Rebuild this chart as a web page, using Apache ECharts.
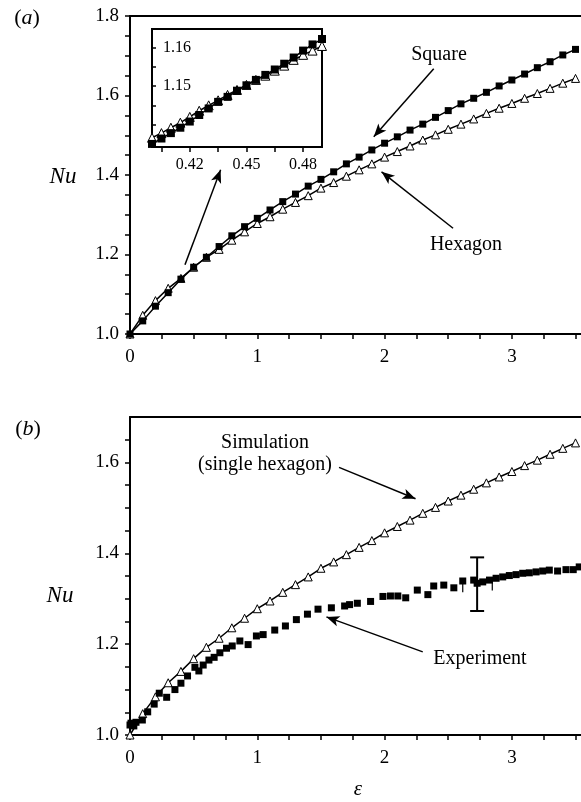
<!DOCTYPE html>
<html>
<head>
<meta charset="utf-8">
<script src="https://cdn.jsdelivr.net/npm/echarts@6/dist/echarts.min.js"></script>
<style>
  html, body { margin: 0; padding: 0; background: #fff; }
  #chart { width: 581px; height: 802px; }
</style>
</head>
<body>
<div id="chart"></div>
<script>
// ---- Data: Nusselt number vs. reduced control parameter epsilon ----
const eps = [0.0, 0.1, 0.2, 0.3, 0.4, 0.5, 0.6, 0.7, 0.8, 0.9, 1.0, 1.1, 1.2, 1.3, 1.4, 1.5, 1.6, 1.7,
             1.8, 1.9, 2.0, 2.1, 2.2, 2.3, 2.4, 2.5, 2.6, 2.7, 2.8, 2.9, 3.0, 3.1, 3.2, 3.3, 3.4, 3.5];
const nuSquare = [1.000, 1.033, 1.070, 1.104, 1.138, 1.168, 1.193, 1.220, 1.247, 1.270, 1.291, 1.312,
                  1.333, 1.352, 1.372, 1.389, 1.408, 1.428, 1.445, 1.463, 1.480, 1.496, 1.513, 1.528,
                  1.545, 1.562, 1.579, 1.593, 1.608, 1.624, 1.639, 1.654, 1.670, 1.685, 1.702, 1.716];
const nuHexagon = [1.000, 1.047, 1.084, 1.115, 1.140, 1.168, 1.193, 1.213, 1.236, 1.257, 1.278, 1.295,
                   1.314, 1.331, 1.348, 1.367, 1.381, 1.397, 1.413, 1.428, 1.445, 1.459, 1.473, 1.488,
                   1.501, 1.515, 1.528, 1.541, 1.555, 1.568, 1.580, 1.593, 1.605, 1.618, 1.631, 1.643];

// Close-up near eps = 0.45 where the two planforms cross
const insetEps = [0.400, 0.405, 0.410, 0.415, 0.420, 0.425, 0.430, 0.435, 0.440, 0.445,
                  0.450, 0.455, 0.460, 0.465, 0.470, 0.475, 0.480, 0.485, 0.490];
const insetSquare = [1.1350, 1.1364, 1.1378, 1.1392, 1.1408, 1.1425, 1.1442, 1.1459, 1.1472, 1.1488,
                     1.1502, 1.1516, 1.1529, 1.1543, 1.1558, 1.1574, 1.1592, 1.1608, 1.1622];
const insetHexagon = [1.1366, 1.1378, 1.1392, 1.1405, 1.1420, 1.1436, 1.1450, 1.1463, 1.1477, 1.1490,
                      1.1503, 1.1516, 1.1527, 1.1540, 1.1553, 1.1568, 1.1581, 1.1592, 1.1604];

// Measured Nusselt numbers
const expEps = [0.000, 0.030, 0.008, 0.047, 0.097, 0.139, 0.190, 0.230, 0.288, 0.353, 0.400, 0.452,
                0.510, 0.541, 0.575, 0.620, 0.661, 0.706, 0.758, 0.803, 0.863, 0.928, 0.993, 1.046,
                1.137, 1.221, 1.307, 1.394, 1.477, 1.582, 1.686, 1.725, 1.786, 1.890, 1.987, 2.046,
                2.104, 2.166, 2.257, 2.340, 2.386, 2.465, 2.544, 2.614, 2.700, 2.727, 2.771, 2.824,
                2.876, 2.928, 2.980, 3.033, 3.085, 3.137, 3.190, 3.242, 3.294, 3.359, 3.425, 3.482, 3.529];
const expNu = [1.022, 1.020, 1.026, 1.028, 1.033, 1.051, 1.068, 1.092, 1.083, 1.100, 1.114, 1.130,
               1.149, 1.141, 1.154, 1.165, 1.171, 1.181, 1.191, 1.196, 1.207, 1.199, 1.218, 1.221,
               1.231, 1.240, 1.254, 1.266, 1.277, 1.280, 1.284, 1.287, 1.290, 1.294, 1.305, 1.306,
               1.306, 1.302, 1.319, 1.309, 1.328, 1.330, 1.324, 1.339, 1.341, 1.334, 1.337, 1.341,
               1.345, 1.348, 1.351, 1.353, 1.356, 1.357, 1.359, 1.361, 1.363, 1.361, 1.364, 1.364, 1.370];

// Uncertainty bars on the measurements
const errEps = [2.727];
const errLow = [1.273];
const errHigh = [1.391];
const smallErrEps = [2.614, 2.846];
const smallErrLow = [1.314, 1.318];
const smallErrHigh = [1.337, 1.340];

// Tick values
const xLabels = [0, 1, 2, 3];
const xTicks = [0, 0.25, 0.5, 0.75, 1, 1.25, 1.5, 1.75, 2, 2.25, 2.5, 2.75, 3, 3.25, 3.5];
const yLabelsA = [1.0, 1.2, 1.4, 1.6, 1.8];
const yTicksA = [1.0, 1.05, 1.1, 1.15, 1.2, 1.25, 1.3, 1.35, 1.4, 1.45, 1.5, 1.55, 1.6, 1.65, 1.7, 1.75, 1.8];
const yLabelsB = [1.0, 1.2, 1.4, 1.6];
const yTicksB = [1.0, 1.05, 1.1, 1.15, 1.2, 1.25, 1.3, 1.35, 1.4, 1.45, 1.5, 1.55, 1.6, 1.65];
const insetXLabels = [0.42, 0.45, 0.48];
const insetXTicks = [0.405, 0.42, 0.435, 0.45, 0.465, 0.48];
const insetYLabels = [1.15, 1.16];
const insetYTicks = [1.14, 1.145, 1.15, 1.155, 1.16];

// Annotation arrows, [tail, head] in data coordinates
const arrowSquare = [[2.386, 1.667], [1.915, 1.496]];
const arrowHexagon = [[2.538, 1.266], [1.976, 1.408]];
const arrowInset = [[0.432, 1.174], [0.712, 1.413]];
const arrowSimulation = [[1.642, 1.589], [2.243, 1.520]];
const arrowExperiment = [[2.300, 1.183], [1.543, 1.260]];

// ---- Styling ----
const FONT = '"Liberation Serif", "Times New Roman", serif';
const INK = '#000';

function bottomAxis(gridIndex, min, max, labels, ticks, fontSize, margin) {
  return {
    type: 'value', gridIndex, position: 'bottom', min, max,
    axisLine: { show: true, onZero: false, lineStyle: { color: INK, width: 2 } },
    axisTick: { show: true, inside: false, length: 5, customValues: ticks, lineStyle: { color: INK, width: 1.5 } },
    axisLabel: { show: true, customValues: labels, margin, color: INK, fontFamily: FONT, fontSize },
    splitLine: { show: false }
  };
}
function topLine(gridIndex, min, max) {
  return {
    type: 'value', gridIndex, position: 'top', min, max,
    axisLine: { show: true, onZero: false, lineStyle: { color: INK, width: 2 } },
    axisTick: { show: false }, axisLabel: { show: false }, splitLine: { show: false }
  };
}
function leftAxis(gridIndex, min, max, labels, ticks) {
  return {
    type: 'value', gridIndex, min, max,
    axisLine: { show: true, onZero: false, lineStyle: { color: INK, width: 2 } },
    axisTick: { show: true, inside: false, length: 5, customValues: ticks, lineStyle: { color: INK, width: 1.5 } },
    axisLabel: { show: true, customValues: labels, margin: 11, color: INK, fontFamily: FONT, fontSize: 19,
                 formatter: v => v.toFixed(1) },
    splitLine: { show: false }
  };
}

const pairs = (xs, ys) => xs.map((x, i) => [x, ys[i]]);
const arrowData = arrows => arrows.map(a => [{ coord: a[0] }, { coord: a[1] }]);
const arrowLines = arrows => ({
  silent: true, animation: false,
  symbol: ['none', 'arrow'], symbolSize: [8, 13],
  lineStyle: { color: INK, width: 1.5, type: 'solid', opacity: 1 },
  itemStyle: { color: INK, opacity: 1 },
  label: { show: false }, emphasis: { disabled: true },
  data: arrowData(arrows)
});

const squareLine = (xi, yi, data, size, extra) => Object.assign({
  type: 'line', xAxisIndex: xi, yAxisIndex: yi, data,
  symbol: 'rect', symbolSize: size, showAllSymbol: true,
  itemStyle: { color: INK, opacity: 1 }, lineStyle: { color: INK, width: 1.5 }, z: 3
}, extra || {});
const triangleLine = (xi, yi, data, size, extra) => Object.assign({
  type: 'line', xAxisIndex: xi, yAxisIndex: yi, data,
  symbol: 'triangle', symbolSize: size, showAllSymbol: true,
  itemStyle: { color: '#fff', borderColor: INK, borderWidth: 1, opacity: 1 },
  lineStyle: { color: INK, width: 1.5 }, z: 2
}, extra || {});

function errorBar(capHalf, width) {
  return function (params, api) {
    const lo = api.coord([api.value(0), api.value(1)]);
    const hi = api.coord([api.value(0), api.value(2)]);
    const style = { stroke: INK, lineWidth: width };
    const children = [{ type: 'line', shape: { x1: lo[0], y1: lo[1], x2: hi[0], y2: hi[1] }, style }];
    if (capHalf > 0) {
      children.push({ type: 'line', shape: { x1: lo[0] - capHalf, y1: lo[1], x2: lo[0] + capHalf, y2: lo[1] }, style });
      children.push({ type: 'line', shape: { x1: hi[0] - capHalf, y1: hi[1], x2: hi[0] + capHalf, y2: hi[1] }, style });
    }
    return { type: 'group', children };
  };
}

const XMAX = 3.543;

const option = {
  animation: false,
  backgroundColor: '#fff',
  grid: [
    { left: 130, top: 16, right: 0, height: 318 },
    { left: 152, top: 29, width: 170, height: 118, show: true, backgroundColor: '#fff',
      borderColor: INK, borderWidth: 2, z: 5 },
    { left: 130, top: 417, right: 0, height: 318 }
  ],
  xAxis: [
    bottomAxis(0, 0, XMAX, xLabels, xTicks, 19, 14),
    topLine(0, 0, XMAX),
    Object.assign(bottomAxis(1, 0.400, 0.490, insetXLabels, insetXTicks, 16, 10),
      { axisLine: { show: false }, z: 6 }),
    bottomAxis(2, 0, XMAX, xLabels, xTicks, 19, 14),
    topLine(2, 0, XMAX)
  ],
  yAxis: [
    leftAxis(0, 1.0, 1.8, yLabelsA, yTicksA),
    {
      type: 'value', gridIndex: 1, min: 1.1342, max: 1.1648, z: 6,
      axisLine: { show: false },
      axisTick: { show: true, inside: true, length: 4, customValues: insetYTicks, lineStyle: { color: INK, width: 1.5 } },
      axisLabel: { show: true, inside: true, customValues: insetYLabels, margin: 11, color: INK,
                   fontFamily: FONT, fontSize: 16, formatter: v => v.toFixed(2) },
      splitLine: { show: false }
    },
    leftAxis(2, 1.0, 1.7, yLabelsB, yTicksB)
  ],
  series: [
    // (a) square vs hexagon planforms
    triangleLine(0, 0, pairs(eps, nuHexagon), 8),
    squareLine(0, 0, pairs(eps, nuSquare), 7, { markLine: arrowLines([arrowSquare, arrowHexagon, arrowInset]) }),
    // inset close-up
    triangleLine(2, 1, pairs(insetEps, insetHexagon), 9, { z: 7 }),
    squareLine(2, 1, pairs(insetEps, insetSquare), 8, { z: 7 }),
    // (b) simulation vs experiment
    triangleLine(3, 2, pairs(eps, nuHexagon), 8, { markLine: arrowLines([arrowSimulation, arrowExperiment]) }),
    {
      type: 'scatter', xAxisIndex: 3, yAxisIndex: 2, data: pairs(expEps, expNu),
      symbol: 'rect', symbolSize: 7, itemStyle: { color: INK, opacity: 1 }, z: 4
    },
    {
      type: 'custom', xAxisIndex: 3, yAxisIndex: 2, z: 5,
      data: errEps.map((x, i) => [x, errLow[i], errHigh[i]]),
      encode: { x: 0, y: [1, 2] },
      renderItem: errorBar(7, 2)
    },
    {
      type: 'custom', xAxisIndex: 3, yAxisIndex: 2, z: 5,
      data: smallErrEps.map((x, i) => [x, smallErrLow[i], smallErrHigh[i]]),
      encode: { x: 0, y: [1, 2] },
      renderItem: errorBar(0, 1.2)
    }
  ],
  graphic: [
    { type: 'text', style: { x: 27, y: 18, text: '{p|(}{i|a}{p|)}', textAlign: 'center', textVerticalAlign: 'middle',
        rich: { p: { fontFamily: FONT, fontSize: 22, fill: INK }, i: { fontFamily: FONT, fontSize: 22, fontStyle: 'italic', fill: INK } } } },
    { type: 'text', style: { x: 28, y: 429, text: '{p|(}{i|b}{p|)}', textAlign: 'center', textVerticalAlign: 'middle',
        rich: { p: { fontFamily: FONT, fontSize: 22, fill: INK }, i: { fontFamily: FONT, fontSize: 22, fontStyle: 'italic', fill: INK } } } },
    { type: 'text', style: { x: 63, y: 177, text: 'Nu', textAlign: 'center', textVerticalAlign: 'middle',
        fontFamily: FONT, fontSize: 23, fontStyle: 'italic', fill: INK } },
    { type: 'text', style: { x: 60, y: 596, text: 'Nu', textAlign: 'center', textVerticalAlign: 'middle',
        fontFamily: FONT, fontSize: 23, fontStyle: 'italic', fill: INK } },
    { type: 'text', style: { x: 439, y: 55, text: 'Square', textAlign: 'center', textVerticalAlign: 'middle',
        fontFamily: FONT, fontSize: 20, fill: INK } },
    { type: 'text', style: { x: 466, y: 245, text: 'Hexagon', textAlign: 'center', textVerticalAlign: 'middle',
        fontFamily: FONT, fontSize: 20, fill: INK } },
    { type: 'text', style: { x: 265, y: 443, text: 'Simulation', textAlign: 'center', textVerticalAlign: 'middle',
        fontFamily: FONT, fontSize: 20, fill: INK } },
    { type: 'text', style: { x: 265, y: 465, text: '(single hexagon)', textAlign: 'center', textVerticalAlign: 'middle',
        fontFamily: FONT, fontSize: 20, fill: INK } },
    { type: 'text', style: { x: 480, y: 659, text: 'Experiment', textAlign: 'center', textVerticalAlign: 'middle',
        fontFamily: FONT, fontSize: 20, fill: INK } },
    { type: 'text', style: { x: 358, y: 789, text: 'ε', textAlign: 'center', textVerticalAlign: 'middle',
        fontFamily: FONT, fontSize: 21, fontStyle: 'italic', fill: INK } }
  ]
};

const chart = echarts.init(document.getElementById('chart'), null, { renderer: 'canvas' });
chart.setOption(option);
</script>
</body>
</html>
